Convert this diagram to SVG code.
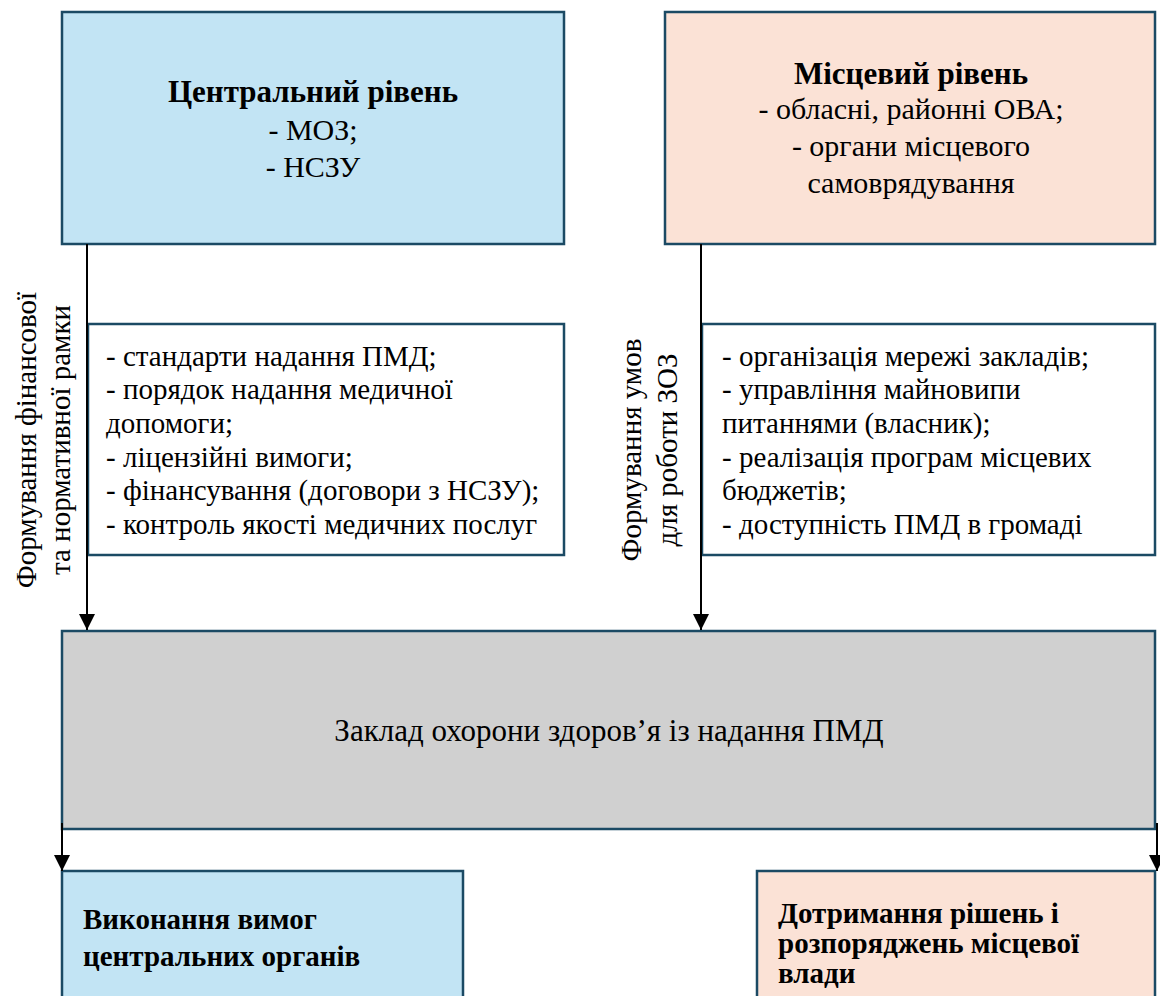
<svg xmlns="http://www.w3.org/2000/svg" width="1160" height="996" viewBox="0 0 1160 996" xml:lang="uk">
  <defs>
    <style>
      .box { stroke: #1b4a64; stroke-width: 2.5; }
      .blue { fill: #c2e4f4; }
      .peach { fill: #fbe2d6; }
      .white { fill: #ffffff; }
      .gray { fill: #d0d0d0; }
      .conn { stroke: #000; stroke-width: 2; fill: none; }
    </style>
    <marker id="arr" markerUnits="userSpaceOnUse" markerWidth="16" markerHeight="16" viewBox="0 0 16 16" refX="16" refY="8" orient="auto">
      <path d="M0,0 L16,8 L0,16 Z" fill="#000"/>
    </marker>
  </defs>

  <g id="central">
    <rect class="box blue" x="62" y="12" width="502" height="232"/>
    <text font-family="Times New Roman, Liberation Serif, serif" font-size="31" font-weight="bold" text-anchor="middle" x="313" y="102">Центральний рівень</text>
    <text font-family="Times New Roman, Liberation Serif, serif" font-size="30" text-anchor="middle" x="313" y="140">- МОЗ;</text>
    <text font-family="Times New Roman, Liberation Serif, serif" font-size="30" text-anchor="middle" x="313" y="177">- НСЗУ</text>
  </g>

  <g id="local">
    <rect class="box peach" x="665" y="12" width="490" height="232"/>
    <text font-family="Times New Roman, Liberation Serif, serif" font-size="31" font-weight="bold" text-anchor="middle" x="911" y="84">Місцевий рівень</text>
    <text font-family="Times New Roman, Liberation Serif, serif" font-size="30" text-anchor="middle" x="911" y="119">- обласні, районні ОВА;</text>
    <text font-family="Times New Roman, Liberation Serif, serif" font-size="30" text-anchor="middle" x="911" y="156">- органи місцевого</text>
    <text font-family="Times New Roman, Liberation Serif, serif" font-size="30" text-anchor="middle" x="911" y="193">самоврядування</text>
  </g>

  <g id="central-list">
    <rect class="box white" x="88" y="324" width="476" height="231"/>
    <text font-family="Times New Roman, Liberation Serif, serif" font-size="29" x="106" y="366">- стандарти надання ПМД;</text>
    <text font-family="Times New Roman, Liberation Serif, serif" font-size="29" x="106" y="399">- порядок надання медичної</text>
    <text font-family="Times New Roman, Liberation Serif, serif" font-size="29" x="106" y="433">допомоги;</text>
    <text font-family="Times New Roman, Liberation Serif, serif" font-size="29" x="106" y="467">- ліцензійні вимоги;</text>
    <text font-family="Times New Roman, Liberation Serif, serif" font-size="29" x="106" y="500">- фінансування (договори з НСЗУ);</text>
    <text font-family="Times New Roman, Liberation Serif, serif" font-size="29" x="106" y="534">- контроль якості медичних послуг</text>
  </g>

  <g id="local-list">
    <rect class="box white" x="702" y="324" width="453" height="231"/>
    <text font-family="Times New Roman, Liberation Serif, serif" font-size="29" x="722" y="366">- організація мережі закладів;</text>
    <text font-family="Times New Roman, Liberation Serif, serif" font-size="29" x="722" y="399">- управління майновипи</text>
    <text font-family="Times New Roman, Liberation Serif, serif" font-size="29" x="722" y="433">питаннями (власник);</text>
    <text font-family="Times New Roman, Liberation Serif, serif" font-size="29" x="722" y="467">- реалізація програм місцевих</text>
    <text font-family="Times New Roman, Liberation Serif, serif" font-size="29" x="722" y="500">бюджетів;</text>
    <text font-family="Times New Roman, Liberation Serif, serif" font-size="29" x="722" y="534">- доступність ПМД в громаді</text>
  </g>

  <g id="facility">
    <rect class="box gray" x="62" y="631" width="1093" height="198"/>
    <text font-family="Times New Roman, Liberation Serif, serif" font-size="31" text-anchor="middle" x="609" y="741">Заклад охорони здоров’я із надання ПМД</text>
  </g>

  <g id="central-req">
    <rect class="box blue" x="62" y="871" width="401" height="140"/>
    <text font-family="Times New Roman, Liberation Serif, serif" font-size="29" font-weight="bold" x="83" y="929">Виконання вимог</text>
    <text font-family="Times New Roman, Liberation Serif, serif" font-size="29" font-weight="bold" x="83" y="966">центральних органів</text>
  </g>

  <g id="local-req">
    <rect class="box peach" x="757" y="871" width="398" height="140"/>
    <text font-family="Times New Roman, Liberation Serif, serif" font-size="29" font-weight="bold" x="778" y="923">Дотримання рішень і</text>
    <text font-family="Times New Roman, Liberation Serif, serif" font-size="29" font-weight="bold" x="778" y="953">розпоряджень місцевої</text>
    <text font-family="Times New Roman, Liberation Serif, serif" font-size="29" font-weight="bold" x="778" y="983">влади</text>
  </g>

  <g id="labels">
    <text font-family="Times New Roman, Liberation Serif, serif" font-size="29" text-anchor="middle" transform="translate(36,440) rotate(-90)">Формування фінансової</text>
    <text font-family="Times New Roman, Liberation Serif, serif" font-size="29" text-anchor="middle" transform="translate(70,440) rotate(-90)">та нормативної рамки</text>
    <text font-family="Times New Roman, Liberation Serif, serif" font-size="29" text-anchor="middle" transform="translate(641,450) rotate(-90)">Формування умов</text>
    <text font-family="Times New Roman, Liberation Serif, serif" font-size="29" text-anchor="middle" transform="translate(677,450) rotate(-90)">для роботи ЗОЗ</text>
  </g>

  <g id="connectors">
    <line class="conn" x1="87" y1="244" x2="87" y2="630" marker-end="url(#arr)"/>
    <line class="conn" x1="701" y1="244" x2="701" y2="630" marker-end="url(#arr)"/>
    <line class="conn" x1="62" y1="823" x2="62" y2="871" marker-end="url(#arr)"/>
    <line class="conn" x1="1157" y1="823" x2="1157" y2="871" marker-end="url(#arr)"/>
  </g>
</svg>
